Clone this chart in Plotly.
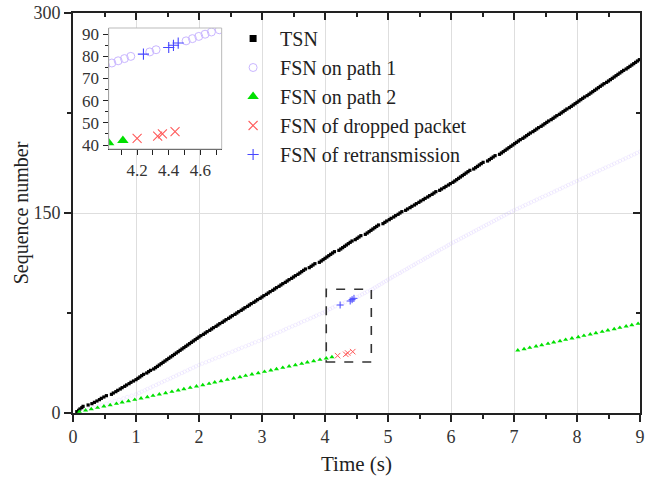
import plotly.graph_objects as go

# ---------------- data ----------------
# TSN: arrival time of each transmission sequence number 1..N
tsn_times = [
    0.06, 0.09, 0.11, 0.14, 0.16, 0.24, 0.30, 0.34, 0.38, 0.42,
    0.45, 0.49, 0.53, 0.61, 0.64, 0.68, 0.71, 0.75, 0.78, 0.82,
    0.85, 0.89, 0.92, 0.96, 1.00, 1.03, 1.06, 1.09, 1.12, 1.17,
    1.20, 1.23, 1.28, 1.31, 1.34, 1.37, 1.40, 1.43, 1.46, 1.49,
    1.52, 1.55, 1.58, 1.61, 1.64, 1.67, 1.70, 1.73, 1.76, 1.79,
    1.82, 1.85, 1.88, 1.91, 1.94, 1.97, 2.00, 2.03, 2.07, 2.10,
    2.13, 2.17, 2.20, 2.23, 2.27, 2.30, 2.33, 2.37, 2.40, 2.43,
    2.47, 2.50, 2.53, 2.57, 2.60, 2.63, 2.67, 2.70, 2.73, 2.77,
    2.80, 2.83, 2.87, 2.90, 2.93, 2.97, 3.00, 3.03, 3.07, 3.10,
    3.13, 3.17, 3.20, 3.23, 3.27, 3.30, 3.33, 3.37, 3.40, 3.43,
    3.47, 3.50, 3.53, 3.57, 3.60, 3.63, 3.66, 3.69, 3.75, 3.78,
    3.81, 3.84, 3.91, 3.94, 3.97, 4.00, 4.03, 4.06, 4.09, 4.12,
    4.15, 4.22, 4.25, 4.28, 4.31, 4.34, 4.37, 4.40, 4.43, 4.48,
    4.51, 4.54, 4.57, 4.64, 4.67, 4.70, 4.73, 4.76, 4.79, 4.82,
    4.85, 4.92, 4.95, 4.98, 5.02, 5.05, 5.09, 5.12, 5.16, 5.19,
    5.22, 5.28, 5.31, 5.35, 5.38, 5.42, 5.45, 5.49, 5.52, 5.56,
    5.59, 5.63, 5.66, 5.70, 5.73, 5.76, 5.82, 5.85, 5.89, 5.92,
    5.96, 5.99, 6.03, 6.06, 6.09, 6.12, 6.15, 6.18, 6.21, 6.24,
    6.27, 6.30, 6.36, 6.39, 6.42, 6.45, 6.48, 6.51, 6.58, 6.61,
    6.64, 6.67, 6.70, 6.77, 6.80, 6.83, 6.86, 6.89, 6.92, 6.95,
    6.98, 7.01, 7.04, 7.07, 7.10, 7.14, 7.17, 7.20, 7.23, 7.26,
    7.30, 7.33, 7.36, 7.39, 7.43, 7.46, 7.49, 7.52, 7.55, 7.59,
    7.62, 7.65, 7.68, 7.72, 7.75, 7.78, 7.81, 7.84, 7.88, 7.91,
    7.94, 7.97, 8.00, 8.03, 8.06, 8.09, 8.12, 8.16, 8.19, 8.22,
    8.25, 8.28, 8.31, 8.34, 8.37, 8.40, 8.43, 8.47, 8.50, 8.53,
    8.56, 8.59, 8.62, 8.65, 8.68, 8.71, 8.74, 8.78, 8.81, 8.84,
    8.87, 8.90, 8.93, 8.96, 8.99,
]
tsn_values = list(range(1, len(tsn_times) + 1))

# FSN on path 1 (sequence numbers 1..196, except the retransmitted ones)
retx_fsn = [81, 84, 85, 86]
retx_times = [4.24, 4.40, 4.43, 4.46]
p1_times = [
    0.12, 0.19, 0.25, 0.32, 0.39, 0.46, 0.53, 0.59, 0.66, 0.73,
    0.80, 0.86, 0.93, 1.00, 1.05, 1.09, 1.14, 1.18, 1.23, 1.27,
    1.32, 1.36, 1.41, 1.45, 1.50, 1.55, 1.59, 1.64, 1.68, 1.73,
    1.77, 1.82, 1.86, 1.91, 1.95, 2.00, 2.05, 2.11, 2.16, 2.21,
    2.26, 2.32, 2.37, 2.42, 2.47, 2.53, 2.58, 2.63, 2.68, 2.74,
    2.79, 2.84, 2.89, 2.95, 3.00, 3.05, 3.10, 3.14, 3.19, 3.24,
    3.29, 3.34, 3.38, 3.43, 3.48, 3.53, 3.58, 3.62, 3.67, 3.72,
    3.77, 3.82, 3.86, 3.91, 3.96, 4.00, 4.04, 4.08, 4.12, 4.16,
    4.28, 4.32,
    4.51, 4.55, 4.59, 4.63, 4.67, 4.72, 4.76, 4.79, 4.83, 4.86,
    4.90, 4.93, 4.97, 5.00, 5.04, 5.07, 5.11, 5.15, 5.19, 5.22,
    5.26, 5.30, 5.33, 5.37, 5.41, 5.44, 5.48, 5.52, 5.56, 5.59,
    5.63, 5.67, 5.70, 5.74, 5.78, 5.81, 5.85, 5.89, 5.93, 5.96,
    6.00, 6.04, 6.08, 6.12, 6.16, 6.20, 6.24, 6.28, 6.32, 6.36,
    6.40, 6.44, 6.48, 6.52, 6.56, 6.60, 6.64, 6.68, 6.72, 6.76,
    6.80, 6.84, 6.88, 6.92, 6.96, 7.00, 7.05, 7.09, 7.14, 7.18,
    7.23, 7.27, 7.32, 7.36, 7.41, 7.45, 7.50, 7.55, 7.59, 7.64,
    7.68, 7.73, 7.77, 7.82, 7.86, 7.91, 7.95, 8.00, 8.05, 8.09,
    8.14, 8.18, 8.23, 8.27, 8.32, 8.36, 8.41, 8.45, 8.50, 8.55,
    8.59, 8.64, 8.68, 8.73, 8.77, 8.82, 8.86, 8.91, 8.95, 9.00,
]
p1_fsn = [n for n in range(1, 197) if n not in retx_fsn]

# FSN on path 2 (1..42 before the outage, 47..67 after it)
p2_times = [
    0.10, 0.20, 0.29, 0.39, 0.49, 0.59, 0.69, 0.78, 0.88, 0.98,
    1.08, 1.18, 1.27, 1.37, 1.47, 1.57, 1.67, 1.76, 1.86, 1.96,
    2.06, 2.16, 2.25, 2.35, 2.45, 2.55, 2.65, 2.74, 2.84, 2.94,
    3.04, 3.14, 3.23, 3.33, 3.43, 3.53, 3.63, 3.72, 3.82, 3.92,
    4.02, 4.11,
    7.06, 7.16, 7.25, 7.35, 7.44, 7.54, 7.63, 7.73, 7.82, 7.92,
    8.02, 8.11, 8.21, 8.30, 8.40, 8.49, 8.59, 8.68, 8.78, 8.87,
    8.97,
]
p2_fsn = list(range(1, 43)) + list(range(47, 68))

# dropped packets on path 2
drop_times = [4.20, 4.33, 4.36, 4.44]
drop_fsn = [43, 44, 45, 46]

x_ticks = [0, 1, 2, 3, 4, 5, 6, 7, 8, 9]
y_ticks = [0, 150, 300]
inset_x_ticks = [4.2, 4.4, 4.6]
inset_y_ticks = [40, 50, 60, 70, 80, 90]
inset_x_range = [4.02, 4.735]
inset_y_range = [38.2, 92.8]

# ---------------- styles ----------------
FONT = "Liberation Serif, Times New Roman, serif"
C_TSN = "#000000"
C_P1 = "#c9b6ff"
C_P2 = "#00e000"
C_DROP = "#ff5a5a"
C_RETX = "#4646ff"

fig = go.Figure()

# main plot traces
fig.add_trace(go.Scatter(x=tsn_times, y=tsn_values, mode="markers", xaxis="x", yaxis="y",
                         marker=dict(symbol="square", size=3.2, color=C_TSN, line=dict(width=0)),
                         showlegend=False, hoverinfo="skip"))
fig.add_trace(go.Scatter(x=p1_times, y=p1_fsn, mode="markers", xaxis="x", yaxis="y",
                         marker=dict(symbol="circle-open", size=3.5, color="rgba(201,182,255,0.35)",
                                     line=dict(width=0.6)),
                         showlegend=False, hoverinfo="skip"))
fig.add_trace(go.Scatter(x=p2_times, y=p2_fsn, mode="markers", xaxis="x", yaxis="y",
                         marker=dict(symbol="triangle-up", size=4.5, color=C_P2, line=dict(width=0)),
                         showlegend=False, hoverinfo="skip"))
fig.add_trace(go.Scatter(x=drop_times, y=drop_fsn, mode="markers", xaxis="x", yaxis="y",
                         marker=dict(symbol="x-thin", size=5.5, color=C_DROP, line=dict(width=1, color=C_DROP)),
                         showlegend=False, hoverinfo="skip"))
fig.add_trace(go.Scatter(x=retx_times, y=retx_fsn, mode="markers", xaxis="x", yaxis="y",
                         marker=dict(symbol="cross-thin", size=5, color=C_RETX, line=dict(width=1, color=C_RETX)),
                         showlegend=False, hoverinfo="skip"))

# helper trace for the mirrored (top/right) axes
fig.add_trace(go.Scatter(x=[None], y=[None], xaxis="x2", yaxis="y2", mode="markers",
                         showlegend=False, hoverinfo="skip"))

# inset traces (also carry the legend)
fig.add_trace(go.Scatter(x=tsn_times, y=tsn_values, mode="markers", xaxis="x3", yaxis="y3",
                         name="TSN", marker=dict(symbol="square", size=7, color=C_TSN),
                         hoverinfo="skip"))
fig.add_trace(go.Scatter(x=p1_times, y=p1_fsn, mode="markers", xaxis="x3", yaxis="y3",
                         name="FSN on path 1",
                         marker=dict(symbol="circle-open", size=8, color=C_P1, line=dict(width=1)),
                         hoverinfo="skip"))
fig.add_trace(go.Scatter(x=p2_times, y=p2_fsn, mode="markers", xaxis="x3", yaxis="y3",
                         name="FSN on path 2",
                         marker=dict(symbol="triangle-up", size=10, color=C_P2),
                         hoverinfo="skip"))
fig.add_trace(go.Scatter(x=drop_times, y=drop_fsn, mode="markers", xaxis="x3", yaxis="y3",
                         name="FSN of dropped packet",
                         marker=dict(symbol="x-thin", size=9, color=C_DROP, line=dict(width=1.1, color=C_DROP)),
                         hoverinfo="skip"))
fig.add_trace(go.Scatter(x=retx_times, y=retx_fsn, mode="markers", xaxis="x3", yaxis="y3",
                         name="FSN of retransmission",
                         marker=dict(symbol="cross-thin", size=8, color=C_RETX, line=dict(width=1.1, color=C_RETX)),
                         hoverinfo="skip"))

tickfont = dict(family=FONT, size=18, color="#333")
axline = dict(showline=True, linecolor="#222", linewidth=1.6)

fig.update_layout(
    width=645, height=479,
    margin=dict(l=73, r=0, t=13, b=66),
    paper_bgcolor="white", plot_bgcolor="white",
    font=dict(family=FONT, size=18, color="#222"),
    xaxis=dict(domain=[0, 1], range=[0, 9], tickmode="array", tickvals=x_ticks,
               ticks="outside", ticklen=7, tickwidth=1.5, tickcolor="#222",
               minor=dict(dtick=0.5, ticks="outside", ticklen=4, tickwidth=1.5, tickcolor="#222", showgrid=False),
               showgrid=True, gridcolor="#dedede", gridwidth=1, zeroline=False,
               tickfont=tickfont, anchor="y", ticklabeloverflow="allow",
               title=dict(text="Time (s)", font=dict(family=FONT, size=21, color="#222"), standoff=10),
               **axline),
    yaxis=dict(domain=[0, 1], range=[0, 300], tickmode="array", tickvals=y_ticks,
               ticks="outside", ticklen=7, tickwidth=1.5, tickcolor="#222",
               minor=dict(dtick=75, ticks="outside", ticklen=4, tickwidth=1.5, tickcolor="#222", showgrid=False),
               showgrid=True, gridcolor="#dedede", gridwidth=1, zeroline=False,
               tickfont=tickfont, anchor="x", ticklabeloverflow="allow",
               title=dict(text="Sequence number", font=dict(family=FONT, size=20, color="#222"), standoff=0),
               **axline),
    xaxis2=dict(overlaying="x", side="top", range=[0, 9], tickmode="array", tickvals=x_ticks,
                ticks="inside", ticklen=7, tickwidth=1.5, tickcolor="#222",
                minor=dict(dtick=0.5, ticks="inside", ticklen=4, tickwidth=1.5, tickcolor="#222"),
                showticklabels=False, showgrid=False, zeroline=False, anchor="y2", **axline),
    yaxis2=dict(overlaying="y", side="right", range=[0, 300], tickmode="array", tickvals=y_ticks,
                ticks="inside", ticklen=7, tickwidth=1.5, tickcolor="#222",
                minor=dict(dtick=75, ticks="inside", ticklen=4, tickwidth=1.5, tickcolor="#222"),
                showticklabels=False, showgrid=False, zeroline=False, anchor="x2", **axline),
    xaxis3=dict(domain=[0.0629, 0.2622], range=inset_x_range, anchor="y3",
                tickmode="array", tickvals=inset_x_ticks,
                ticks="outside", ticklen=5, tickwidth=1.3, tickcolor="#222",
                minor=dict(dtick=0.1, tick0=4.0, ticks="outside", ticklen=5, tickwidth=1.3, tickcolor="#222", showgrid=False),
                showgrid=False, zeroline=False, tickfont=dict(family=FONT, size=17, color="#333"),
                showline=True, linecolor="#222", linewidth=1.3),
    yaxis3=dict(domain=[0.66, 0.9625], range=inset_y_range, anchor="x3",
                tickmode="array", tickvals=inset_y_ticks,
                ticks="outside", ticklen=5, tickwidth=1.3, tickcolor="#222",
                minor=dict(dtick=5, ticks="outside", ticklen=3, tickwidth=1.3, tickcolor="#222", showgrid=False),
                showgrid=False, zeroline=False, tickfont=dict(family=FONT, size=17, color="#333"),
                showline=True, linecolor="#222", linewidth=1.3),
    legend=dict(x=0.27, y=0.985, xanchor="left", yanchor="top", bgcolor="rgba(0,0,0,0)",
                font=dict(family=FONT, size=20, color="#222"), itemwidth=44, tracegroupgap=0),
    shapes=[
        # white backing of the inset (hides the grid behind it)
        dict(type="rect", xref="paper", yref="paper", x0=0.004, x1=0.268, y0=0.6025, y1=0.9725,
             fillcolor="white", line=dict(width=0), layer="between"),
        # inset frame (light top/right)
        dict(type="rect", xref="x3 domain", yref="y3 domain", x0=0, x1=1, y0=0, y1=1,
             line=dict(color="#bbbbbb", width=1), layer="above"),
        # dashed zoom box in main plot
        dict(type="rect", xref="x", yref="y", x0=inset_x_range[0], x1=inset_x_range[1],
             y0=inset_y_range[0], y1=inset_y_range[1],
             line=dict(color="#333", width=1.6, dash="dash"), layer="above"),
    ],
)

fig.write_html("out.html")
